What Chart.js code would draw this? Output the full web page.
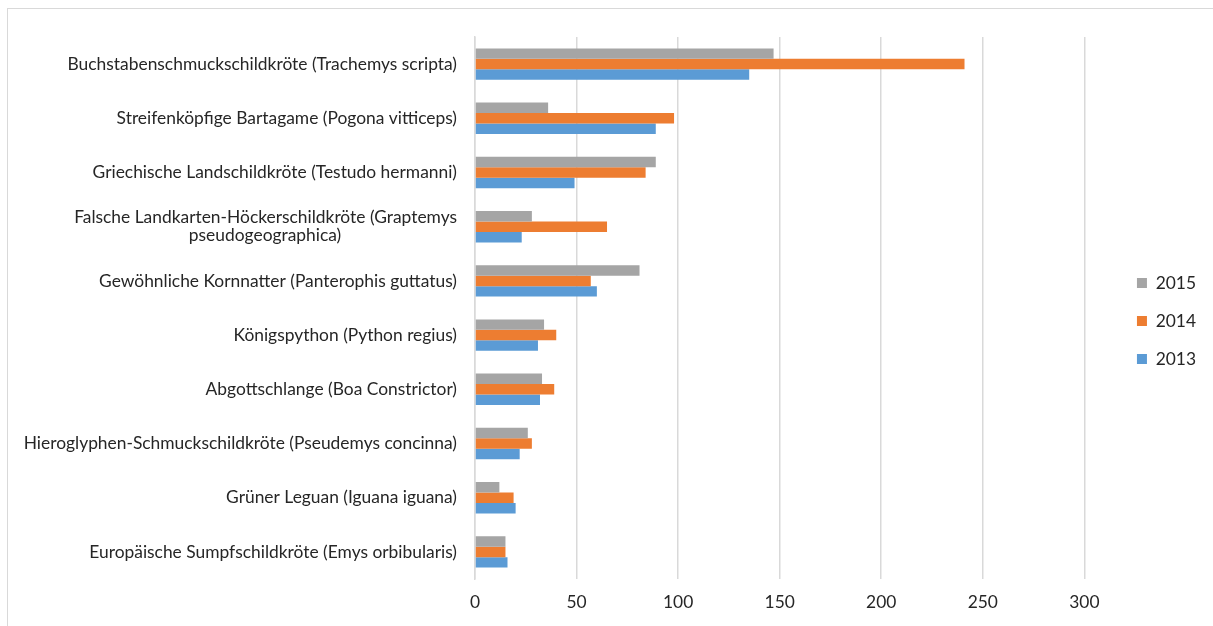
<!DOCTYPE html>
<html>
<head>
<meta charset="utf-8">
<script src="https://cdn.jsdelivr.net/npm/chart.js@4"></script>
<style>
    html, body { margin: 0; padding: 0; background: #fff; overflow: hidden; }
    .frame {
        position: absolute; left: 7px; top: 8px;
        width: 1300px; height: 700px;
        border: 1px solid #d9d9d9;
    }
    .wrap { position: absolute; left: 0; top: 0; width: 1213px; height: 626px; }
</style>
</head>
<body>
<div class="frame"></div>
<div class="wrap"><canvas id="reptileChart"></canvas></div>
<script>
// ── DATA ──
const categories = [
    'Buchstabenschmuckschildkröte (Trachemys scripta)',
    'Streifenköpfige Bartagame (Pogona vitticeps)',
    'Griechische Landschildkröte (Testudo hermanni)',
    ['Falsche Landkarten-Höckerschildkröte (Graptemys', 'pseudogeographica)'],
    'Gewöhnliche Kornnatter (Panterophis guttatus)',
    'Königspython (Python regius)',
    'Abgottschlange (Boa Constrictor)',
    'Hieroglyphen-Schmuckschildkröte (Pseudemys concinna)',
    'Grüner Leguan (Iguana iguana)',
    'Europäische Sumpfschildkröte (Emys orbibularis)'
];
const seriesNames = ['2015', '2014', '2013'];
const values2015 = [147, 36, 89, 28, 81, 34, 33, 26, 12, 15];
const values2014 = [241, 98, 84, 65, 57, 40, 39, 28, 19, 15];
const values2013 = [135, 89, 49, 23, 60, 31, 32, 22, 20, 16];
const xMin = 0;
const xMax = 300;
const xStep = 50;

const FONT = { family: "Lato, 'Liberation Sans', sans-serif", size: 17.4, lineHeight: 1.05 };
const TEXT = '#262626';

// Excel centres the wrapped lines of a label; pad the shorter lines with spaces so they sit centred
function centreLines(label) {
    if (!Array.isArray(label)) return label;
    const mctx = document.createElement('canvas').getContext('2d');
    mctx.font = FONT.size + 'px ' + FONT.family;
    const widths = label.map(t => mctx.measureText(t).width);
    const full = Math.max(...widths);
    const sp = mctx.measureText('\u00a0').width;
    return label.map((t, i) => t + '\u00a0'.repeat(Math.round((full - widths[i]) / 2 / sp)));
}

// nudge legend away from the plot, like the Excel layout
const legendNudge = {
    id: 'legendNudge',
    afterLayout(chart) {
        const lg = chart.legend;
        if (!lg) return;
        lg.left += 32; lg.right += 32;
        lg.top -= 10.5; lg.bottom -= 10.5;
    }
};

window.addEventListener('load', () => {
    const ctx = document.getElementById('reptileChart');
    new Chart(ctx, {
        type: 'bar',
        data: {
            labels: categories.map(centreLines),
            datasets: [
                { label: seriesNames[0], data: values2015, backgroundColor: '#A5A5A5' },
                { label: seriesNames[1], data: values2014, backgroundColor: '#ED7D31' },
                { label: seriesNames[2], data: values2013, backgroundColor: '#5B9BD5' }
            ]
        },
        options: {
            indexAxis: 'y',
            responsive: true,
            maintainAspectRatio: false,
            animation: false,
            categoryPercentage: 0.58,
            barPercentage: 1,
            layout: { padding: { top: 37, right: 39, bottom: 0, left: 0 } },
            plugins: {
                legend: {
                    position: 'right',
                    labels: {
                        boxWidth: 10,
                        boxHeight: 10,
                        padding: 20.6,
                        color: TEXT,
                        font: FONT
                    }
                },
                tooltip: { enabled: false }
            },
            scales: {
                x: {
                    min: xMin,
                    max: xMax,
                    ticks: { stepSize: xStep, color: TEXT, font: FONT, padding: 14 },
                    grid: { color: '#d9d9d9', lineWidth: 1.5, drawTicks: false },
                    border: { display: false },
                    afterFit: (s) => { s.height = 47; }
                },
                y: {
                    ticks: { color: TEXT, font: FONT, padding: 18, autoSkip: false },
                    grid: { display: false, drawTicks: false },
                    border: { display: true, color: '#d9d9d9', width: 1.5 },
                    afterFit: (s) => { s.width = 475; }
                }
            }
        },
        plugins: [legendNudge]
    });
});
</script>
</body>
</html>
